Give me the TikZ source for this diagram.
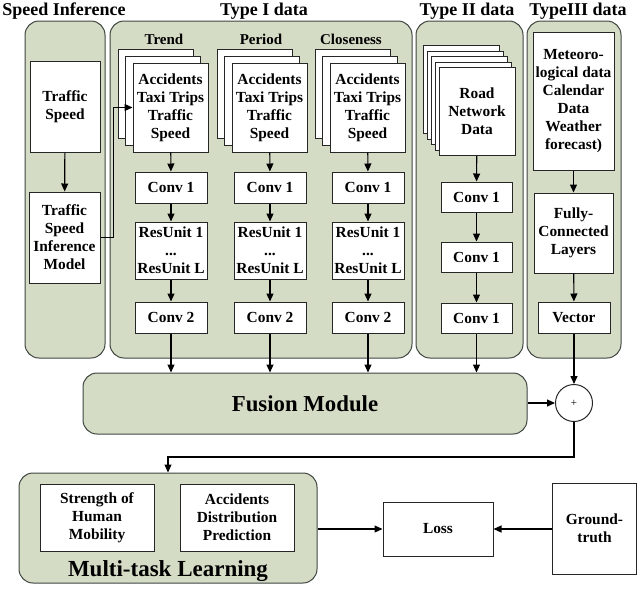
\documentclass[tikz,border=0pt]{standalone}
\usepackage{fontspec}
\setmainfont{Liberation Serif}
\usetikzlibrary{arrows.meta, positioning, calc}

\definecolor{panelgreen}{RGB}{213,220,198}
\definecolor{panelline}{RGB}{62,70,64}

\begin{document}
\begin{tikzpicture}[
  x=1pt, y=-1pt,
  panel/.style={draw=panelline, fill=panelgreen, rounded corners=14pt, line width=1pt},
  box/.style={draw=black!85, fill=white, line width=1pt, align=center,
              font=\fontsize{15.4}{18}\selectfont\bfseries, inner sep=1pt},
  sheet/.style={box, minimum width=75, minimum height=89},
  title/.style={font=\fontsize{18}{20}\selectfont\bfseries},
  sublabel/.style={font=\fontsize{15}{18}\selectfont\bfseries},
  arr/.style={-{Triangle[length=8pt,width=7pt]}, line width=1.1pt},
]
  \useasboundingbox (0,0) rectangle (638,590);

  % Panel headings
  \node[title] (tspeed) at (64,11)  {Speed Inference};
  \node[title] (ttype1) at (264,11) {Type I data};
  \node[title] (ttype2) at (467,11) {Type II data};
  \node[title] (ttype3) at (578,11) {TypeIII data};

  % Panels
  \node[panel, minimum width=80,  minimum height=337] (pspeed) at (65,189.5)  {};
  \node[panel, minimum width=302, minimum height=337] (ptype1) at (261,189.5) {};
  \node[panel, minimum width=107, minimum height=337] (ptype2) at (469.5,189.5) {};
  \node[panel, minimum width=94,  minimum height=337] (ptype3) at (574,189.5) {};
  \node[panel, minimum width=444, minimum height=61,
        font=\fontsize{22.8}{26}\selectfont\bfseries] (fusion) at (305,403.5) {Fusion Module};
  \node[panel, minimum width=298, minimum height=110] (multi) at (168,528) {};

  % Speed inference
  \node[box, minimum width=70, minimum height=91] (speed) at (65,106.5) {Traffic\\Speed};
  \node[box, minimum width=71, minimum height=91] (model) at (64.5,237.5) {Traffic\\Speed\\Inference\\Model};
  \draw[arr] (speed) -- (model);

  % Type I: trend, period and closeness branches
  \foreach \name/\x/\lx/\lab in {trend/170.5/164/Trend, period/269.5/261/Period, close/367.5/351/Closeness} {
    \foreach \k in {2,1}
      \node[sheet] at (\x-7.5*\k, 107.5-7*\k) {};
    \node[sheet] (\name) at (\x,107.5) {Accidents\\Taxi Trips\\Traffic\\Speed};
    \node[sublabel] (\name-lab) at (\lx,39) {\lab};
    \node[box, minimum width=72, minimum height=31] (\name-c1)  at (\x+0.5,187.5) {Conv 1};
    \node[box, minimum width=72, minimum height=57] (\name-res) at (\x+0.5,250.5) {ResUnit 1\\...\\ResUnit L};
    \node[box, minimum width=72, minimum height=31] (\name-c2)  at (\x+0.5,317.5) {Conv 2};
    \draw[arr] (\name) -- (\name-c1);
    \draw[arr] (\name-c1) -- (\name-res);
    \draw[arr] (\name-res) -- (\name-c2);
    \draw[arr] (\name-c2) -- (\name-c2 |- fusion.north);
  }
  \draw[arr] (model.east) -- ++(13,0) |- (trend.west);

  % Type II: road network
  \foreach \k in {4,3,2,1}
    \node[sheet, minimum width=76, minimum height=88] at (477-4*\k, 111.5-5.5*\k) {};
  \node[sheet, minimum width=76, minimum height=88] (road) at (477,111.5) {Road\\Network\\Data};
  \node[box, minimum width=71, minimum height=30] (road-c1) at (476.5,197) {Conv 1};
  \node[box, minimum width=71, minimum height=30] (road-c2) at (476.5,257) {Conv 1};
  \node[box, minimum width=71, minimum height=30] (road-c3) at (476.5,318) {Conv 1};
  \draw[arr] (road) -- (road-c1);
  \draw[arr] (road-c1) -- (road-c2);
  \draw[arr] (road-c2) -- (road-c3);
  \draw[arr] (road-c3) -- (road-c3 |- fusion.north);

  % Type III: external factors
  \node[box, minimum width=81, minimum height=138] (meteo) at (573.5,101)
    {Meteoro-\\logical data\\Calendar\\Data\\Weather\\forecast)};
  \node[box, minimum width=79, minimum height=80] (fc) at (573.5,233) {Fully-\\Connected\\Layers};
  \node[box, minimum width=72, minimum height=31] (vector) at (574,317.5) {Vector};
  \node[circle, draw=black!85, fill=white, line width=1pt, minimum size=37, inner sep=0pt,
        font=\fontsize{11}{12}\selectfont] (plus) at (574,403) {+};
  \draw[arr] (meteo) -- (fc);
  \draw[arr] (fc) -- (vector);
  \draw[arr] (vector) -- (plus);
  \draw[arr] (fusion.east |- plus) -- (plus.west);

  % Multi-task learning and loss
  \node[box, minimum width=114, minimum height=67] (strength) at (97,517.5) {Strength of\\Human\\Mobility};
  \node[box, minimum width=114, minimum height=67] (accdist) at (237,517.5) {Accidents\\Distribution\\Prediction};
  \node[font=\fontsize{23}{26}\selectfont\bfseries] (multi-lab) at (168,571) {Multi-task Learning};
  \node[box, minimum width=110, minimum height=54] (loss) at (438,529) {Loss};
  \node[box, minimum width=84, minimum height=91] (truth) at (594.5,528.5) {Ground-\\truth};

  \coordinate (bend) at (168,457);
  \draw[arr] (plus.south) |- (bend) -- (multi.north);
  \draw[arr] (multi.east |- loss) -- (loss.west);
  \draw[arr] (truth.west |- loss) -- (loss.east);
\end{tikzpicture}
\end{document}
